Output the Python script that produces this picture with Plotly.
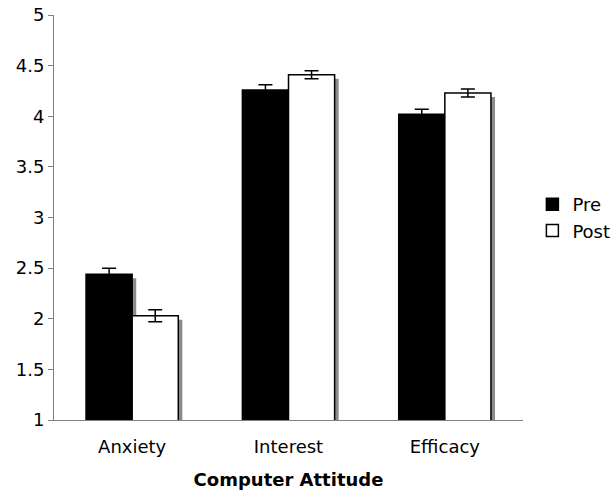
import plotly.graph_objects as go

categories = ["Anxiety", "Interest", "Efficacy"]
pre_values = [2.44, 4.26, 4.02]
post_values = [2.03, 4.41, 4.23]
pre_errors = [0.06, 0.05, 0.05]
post_errors = [0.06, 0.04, 0.04]
y_ticks = [1, 1.5, 2, 2.5, 3, 3.5, 4, 4.5, 5]
y_tick_labels = ["1", "1.5", "2", "2.5", "3", "3.5", "4", "4.5", "5"]

bar_w = 0.295
sh_dx = 0.026
sh_dy = 0.04
FONT = "DejaVu Sans, Verdana, sans-serif"

fig = go.Figure()
# shadows
for vals, off in [(pre_values, -bar_w), (post_values, 0)]:
    fig.add_trace(go.Bar(
        x=categories, y=[v - sh_dy for v in vals], width=bar_w, offset=off + sh_dx,
        marker=dict(color="#8c8c8c", line=dict(width=0)), showlegend=False, hoverinfo="skip"))

fig.add_trace(go.Bar(
    name="Pre", x=categories, y=pre_values, width=bar_w, offset=-bar_w,
    marker=dict(color="black", line=dict(color="black", width=1.5)),
    error_y=dict(type="data", array=pre_errors, color="black", thickness=1.5, width=7)))
fig.add_trace(go.Bar(
    name="Post", x=categories, y=post_values, width=bar_w, offset=0,
    marker=dict(color="white", line=dict(color="black", width=1.5)),
    error_y=dict(type="data", array=post_errors, color="black", thickness=1.5, width=7)))

fig.update_layout(
    width=615, height=500, barmode="overlay",
    margin=dict(l=54, r=92, t=15, b=80, autoexpand=False),
    paper_bgcolor="white", plot_bgcolor="white",
    font=dict(family=FONT, size=18, color="black"),
    legend=dict(x=1.02, y=0.5, xanchor="left", yanchor="middle",
                font=dict(size=18, family=FONT), traceorder="normal",
                bgcolor="rgba(0,0,0,0)", itemwidth=30, borderwidth=0),
    xaxis=dict(
        title=dict(text="<b>Computer Attitude</b>", font=dict(size=18, family=FONT), standoff=17),
        showline=True, linecolor="#808080", linewidth=1, ticks="", showgrid=False,
        tickfont=dict(size=18, family=FONT), range=[-0.5, 2.5], automargin=False,
        ticklabelstandoff=10),
    yaxis=dict(
        range=[1, 5], tickvals=y_ticks, ticktext=y_tick_labels,
        showline=True, linecolor="#808080", linewidth=1, ticks="outside",
        tickcolor="#808080", ticklen=5, showgrid=False, zeroline=False,
        tickfont=dict(size=18, family=FONT), automargin=False),
)

fig.write_html("out.html", post_script="document.body.style.margin='0';",
               config={"displayModeBar": False})
